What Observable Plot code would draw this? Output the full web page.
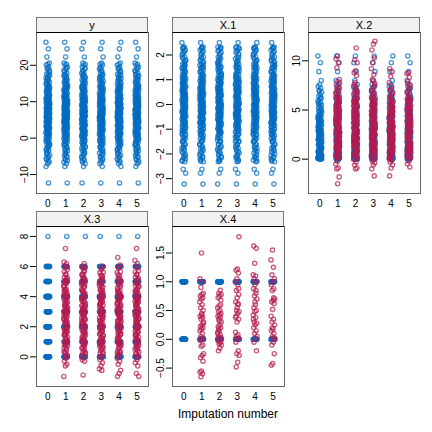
<!DOCTYPE html>
<html>
<head>
<meta charset="utf-8">
<script src="https://cdn.jsdelivr.net/npm/d3@7"></script>
<script src="https://cdn.jsdelivr.net/npm/@observablehq/plot@0.6"></script>
<style>
  body { margin: 0; background: #fff; }
  #wrap { position: relative; width: 432px; height: 432px; font-family: "Liberation Sans", Arial, sans-serif; }
  .pan { position: absolute; }
  .strip { position: absolute; box-sizing: border-box; height: 16px; background: #f2f2f2; border: 1px solid #777; border-bottom: 1px solid #000; font-size: 11px; text-align: center; line-height: 14px; color: #000; }
  #xlab { position: absolute; left: 0; width: 456px; top: 407px; text-align: center; font-size: 12px; }
</style>
</head>
<body>
<div id="wrap"></div>
<script>
// ---- data ----
const imputations = [0, 1, 2, 3, 4, 5];

const yObs = [26.3,24.5,22.3,20.6,20.3,20.1,19.5,18.9,18.2,17.8,17.5,17.1,16.8,16.4,16.0,15.7,15.4,15.1,14.8,14.5,14.2,13.9,13.7,13.4,13.1,12.9,12.7,12.4,12.2,11.9,11.7,11.5,11.3,11.0,10.8,10.6,10.4,10.2,10.0,9.8,9.6,9.4,9.2,9.0,8.8,8.6,8.5,8.3,8.1,7.9,7.8,7.6,7.4,7.2,7.0,6.9,6.7,6.5,6.3,6.1,6.0,5.8,5.6,5.4,5.2,5.0,4.8,4.6,4.4,4.2,4.0,3.8,3.6,3.4,3.2,3.0,2.8,2.5,2.3,2.1,1.8,1.6,1.3,1.1,0.8,0.5,0.2,-0.1,-0.4,-0.8,-1.2,-1.6,-2.0,-2.5,-3.0,-3.5,-4.1,-4.7,-5.3,-6.0,-6.6,-7.0,-7.8,-12.3,12.6,11.1,10.5,9.7,9.3,8.7,8.2,7.5,7.1,6.6,6.2,5.7,5.3,4.9,4.5,3.9,3.3,2.7,2.0,1.4,0.6,-0.6,-1.4,-2.3,-3.3,14.0,15.9,17.3,-5.0,-4.4,13.3,16.6,15.0,14.3,13.6,12.0,11.4,10.9,10.3,9.9,9.5,9.1,8.4,7.7,7.3,6.8,6.4,5.9,5.5,5.1,4.7,4.3,3.7,3.1,2.6,2.2,1.5,0.9,0.3,-0.3,-0.9,-1.8,-2.8,-3.8,18.6,19.2,-5.6,-6.2];

const x1Obs = [2.5,2.32,2.28,2.2,2.1,2.0,1.92,1.85,1.78,1.7,1.64,1.58,1.52,1.46,1.4,1.35,1.3,1.25,1.2,1.15,1.1,1.06,1.02,0.98,0.94,0.9,0.86,0.82,0.78,0.74,0.7,0.66,0.62,0.58,0.55,0.52,0.48,0.45,0.42,0.38,0.35,0.32,0.28,0.25,0.22,0.18,0.15,0.12,0.08,0.05,0.02,-0.01,-0.04,-0.07,-0.1,-0.14,-0.17,-0.2,-0.24,-0.27,-0.3,-0.34,-0.37,-0.41,-0.44,-0.48,-0.52,-0.55,-0.59,-0.63,-0.67,-0.71,-0.75,-0.79,-0.84,-0.88,-0.93,-0.98,-1.03,-1.08,-1.13,-1.19,-1.25,-1.31,-1.38,-1.45,-1.52,-1.6,-1.68,-1.77,-1.86,-1.96,-2.06,-2.15,-2.25,-2.32,-2.62,-2.78,-3.22,0.6,0.3,0.0,-0.3,-0.6,0.9,-0.9,1.2,-1.2,0.45,-0.45,0.15,-0.15,0.75,-0.75,1.05,-1.05,1.5,-1.5,1.8,-1.8,2.05,-2.0,2.3,-2.3,1.62,1.48,1.33,1.18,1.08,0.96,0.84,0.72,0.64,0.51,0.41,0.33,0.21,0.11,0.04,-0.06,-0.12,-0.22,-0.32,-0.39,-0.5,-0.57,-0.65,-0.73,-0.81,-0.91,-1.0,-1.1,-1.22,-1.35,-1.48,-1.63,-1.73,-1.9,2.15,2.25,-2.2,-2.1,1.9,1.72];

const x2Obs = [10.5,9.8,8.9,8.0,7.6,7.4,7.2,7.0,6.8,6.6,6.4,6.2,6.1,5.9,5.8,5.6,5.5,5.3,5.2,5.0,4.9,4.8,4.6,4.5,4.4,4.3,4.1,4.0,3.9,3.8,3.7,3.6,3.5,3.4,3.3,3.2,3.1,3.0,2.9,2.8,2.7,2.6,2.5,2.4,2.3,2.2,2.1,2.0,1.9,1.8,1.7,1.6,1.5,1.4,1.3,1.2,1.1,1.0,0.9,0.8,0.7,0.6,0.5,0.4,0.35,0.3,0.25,0.2,0.15,0.1,0.05,0.02,0.0,3.25,2.75,2.25,1.75,1.25,0.75,0.45,3.55,4.15,4.7,1.55,1.05,0.65,2.05,2.55,0.12,0.08,0.28,0.55,1.85,0.03,0.07,0.18,0.22,0.33,0.42,0.48,0.58,0.68,0.78,0.88,0.95,1.15,1.35,1.45,1.65,1.95,2.15,2.35,2.45,2.65,2.85,2.95,3.05,3.15,3.45,3.65,3.75,3.95,4.25,4.35,4.55,4.85,5.1,5.4,5.7,6.3,6.9,0.01,0.04];
const x2Imp1 = [10.5,10.2,9.8,9.3,8.1,7.9,7.6,7.3,7.0,6.7,6.4,6.2,6.0,5.7,5.5,5.3,5.1,4.9,4.7,4.5,4.3,4.1,3.9,3.7,3.5,3.3,3.1,2.9,2.7,2.5,2.3,2.1,1.9,1.7,1.5,1.3,1.1,0.9,0.7,0.5,0.3,0.1,-0.2,-0.5,-0.9,-1.0,-1.8,-2.5,4.8,3.6,2.4,1.2,5.9,6.6,0.4,0.15,0.45,0.85,1.05,1.35,1.65,1.95,2.15,2.45,2.65,2.85,3.05,3.25,3.45,3.65,3.85,4.05,4.25,4.45,4.65,4.85,5.05,5.25,5.45,5.65,5.85,6.05,6.35,6.85,7.15,7.75,0.65,1.45,2.25,3.15,3.95,4.55,5.15,5.75,2.95,3.55,1.85,2.55,4.15,0.95,1.15,2.05,3.35,4.95,6.25,0.25,1.75,2.35,3.75,5.35];
const x2Imp2 = [11.3,10.1,9.8,9.0,8.8,8.5,7.8,7.4,7.1,6.8,6.5,6.3,6.0,5.8,5.6,5.3,5.1,4.9,4.6,4.4,4.2,4.0,3.8,3.6,3.4,3.2,3.0,2.8,2.6,2.4,2.2,2.0,1.8,1.6,1.4,1.2,1.0,0.8,0.6,0.4,0.2,0.0,-0.3,-0.6,-0.9,-1.0,5.4,3.9,2.7,1.5,0.7,4.5,6.9,3.3,2.1,0.12,0.52,0.92,1.12,1.32,1.72,1.92,2.12,2.52,2.72,2.92,3.12,3.22,3.52,3.72,3.92,4.12,4.32,4.52,4.72,4.92,5.02,5.22,5.52,5.72,5.92,6.12,6.42,6.72,7.22,7.62,0.32,1.42,2.32,3.02,3.82,4.62,5.12,5.82,2.82,3.62,1.82,2.42,4.22,0.82,1.02,2.02,3.42,4.82,6.22,0.02,1.62,2.22,3.72,5.42];
const x2Imp3 = [12.0,11.7,11.1,10.3,9.8,9.2,8.6,8.1,7.7,7.3,7.0,6.7,6.4,6.1,5.9,5.6,5.4,5.1,4.9,4.7,4.4,4.2,4.0,3.8,3.5,3.3,3.1,2.9,2.7,2.5,2.3,2.1,1.9,1.6,1.4,1.2,1.0,0.8,0.5,0.3,0.1,-0.2,-0.4,-0.6,-1.0,-1.7,5.2,3.7,2.6,1.3,0.6,4.6,6.3,3.0,1.8,0.18,0.48,0.88,1.08,1.38,1.68,1.98,2.18,2.48,2.68,2.88,3.08,3.28,3.48,3.68,3.88,4.08,4.28,4.48,4.68,4.88,5.08,5.28,5.48,5.68,5.88,6.08,6.58,6.88,7.48,7.98,0.38,1.48,2.28,3.18,3.98,4.58,5.18,5.78,2.98,3.58,1.88,2.58,4.18,0.98,1.18,2.08,3.38,4.98,6.28,0.08,1.78,2.38,3.78,5.38];
const x2Imp4 = [9.2,8.9,8.4,7.8,7.4,7.0,6.7,6.4,6.1,5.8,5.6,5.3,5.1,4.9,4.7,4.5,4.3,4.1,3.9,3.7,3.5,3.3,3.1,2.9,2.7,2.5,2.3,2.1,1.9,1.7,1.5,1.3,1.1,0.9,0.7,0.5,0.3,0.1,-0.1,-0.3,-0.6,-0.9,-1.7,5.0,3.6,2.4,1.2,0.4,4.4,6.2,3.0,1.8,2.0,0.8,0.14,0.44,0.84,1.04,1.34,1.64,1.94,2.14,2.44,2.64,2.84,3.04,3.24,3.44,3.64,3.84,4.04,4.24,4.44,4.64,4.84,5.04,5.24,5.44,5.64,5.84,6.04,6.34,6.64,7.14,0.64,1.44,2.24,3.14,3.94,4.54,5.14,5.74,2.94,3.54,1.84,2.54,4.14,0.94,1.14,2.04,3.34,4.94,0.24,1.74,2.34,3.74,5.34,-0.04];
const x2Imp5 = [8.8,8.7,8.3,7.9,7.5,7.2,6.9,6.6,6.3,6.0,5.8,5.5,5.3,5.1,4.9,4.7,4.5,4.3,4.1,3.9,3.7,3.5,3.3,3.1,2.9,2.7,2.5,2.3,2.1,1.9,1.7,1.5,1.3,1.1,0.9,0.7,0.5,0.3,0.1,-0.2,-0.5,-0.8,5.2,3.8,2.6,1.4,0.6,4.6,6.1,3.2,2.0,1.0,0.2,7.7,0.16,0.46,0.86,1.06,1.36,1.66,1.96,2.16,2.46,2.66,2.86,3.06,3.26,3.46,3.66,3.86,4.06,4.26,4.46,4.66,4.86,5.06,5.26,5.46,5.66,5.86,6.06,6.36,6.76,7.16,0.66,1.46,2.26,3.16,3.96,4.56,5.16,5.76,2.96,3.56,1.86,2.56,4.16,0.96,1.16,2.06,3.36,4.96,6.26,0.26,1.76,2.36,3.76,5.36];

const x3Levels = [0, 1, 2, 3, 4, 5, 6, 8];
const x3Counts = [18, 12, 18, 18, 18, 12, 10, 1];
const x3Imp1 = [7.2,6.3,6.2,6.0,5.8,5.5,5.3,5.1,4.9,4.7,4.5,4.3,4.1,3.9,3.8,3.6,3.4,3.3,3.1,3.0,2.8,2.7,2.5,2.4,2.2,2.1,1.9,1.8,1.6,1.5,1.3,1.2,1.0,0.9,0.7,0.6,0.4,0.3,0.1,-0.1,-0.3,-0.5,-0.6,-1.3,3.5,2.9,2.3,1.7,4.4,5.0,0.8,3.2,2.6,1.4,0.0,0.05,0.35,0.55,0.85,1.05,1.25,1.45,1.65,1.85,2.05,2.25,2.45,2.65,2.85,3.05,3.25,3.45,3.65,3.85,4.05,4.25,4.45,4.65,4.85,5.05,5.25,5.45,5.65,5.95,0.25,0.75,1.15,1.55,1.95,2.35,2.75,3.15,3.55,3.95,4.35,4.75,5.15,2.15,2.55,2.95,3.35,1.75,3.75,4.15,0.95];
const x3Imp2 = [6.2,6.0,5.9,5.7,5.4,5.2,5.0,4.8,4.6,4.4,4.2,4.0,3.8,3.7,3.5,3.3,3.2,3.0,2.9,2.7,2.6,2.4,2.3,2.1,2.0,1.8,1.7,1.5,1.4,1.2,1.1,0.9,0.8,0.6,0.5,0.3,0.2,0.0,-0.2,-0.3,-1.2,3.4,2.8,2.2,1.6,4.3,4.9,0.7,3.1,2.5,1.3,3.9,1.0,5.5,0.08,0.38,0.58,0.88,1.08,1.28,1.48,1.68,1.88,2.08,2.28,2.48,2.68,2.88,3.08,3.28,3.48,3.68,3.88,4.08,4.28,4.48,4.68,4.88,5.08,5.28,5.48,5.68,5.88,0.28,0.78,1.18,1.58,1.98,2.38,2.78,3.18,3.58,3.98,4.38,4.78,5.18,2.18,2.58,2.98,3.38,1.78,3.78,4.18,0.98];
const x3Imp3 = [6.0,5.8,5.6,5.3,5.1,4.9,4.7,4.5,4.3,4.1,3.9,3.7,3.6,3.4,3.2,3.1,2.9,2.8,2.6,2.5,2.3,2.2,2.0,1.9,1.7,1.6,1.4,1.3,1.1,1.0,0.8,0.7,0.5,0.4,0.2,0.0,-0.2,-0.4,-0.6,-0.8,-0.9,3.5,2.7,2.1,1.5,4.4,4.8,0.6,3.0,2.4,1.2,3.8,0.9,5.4,0.02,0.32,0.52,0.82,1.02,1.22,1.42,1.62,1.82,2.02,2.22,2.42,2.62,2.82,3.02,3.22,3.42,3.62,3.82,4.02,4.22,4.42,4.62,4.82,5.02,5.22,5.42,5.62,5.92,0.22,0.72,1.12,1.52,1.92,2.32,2.72,3.12,3.52,3.92,4.32,4.72,5.12,2.12,2.52,2.92,3.32,1.72,3.72,4.12,0.92];
const x3Imp4 = [6.6,6.1,5.9,5.6,5.4,5.2,5.0,4.8,4.6,4.4,4.2,4.0,3.8,3.6,3.5,3.3,3.1,3.0,2.8,2.7,2.5,2.4,2.2,2.1,1.9,1.8,1.6,1.5,1.3,1.2,1.0,0.9,0.7,0.6,0.4,0.3,0.1,-0.1,-0.3,-0.5,-0.9,-1.1,-1.3,3.4,2.9,2.3,1.7,4.3,5.0,0.8,3.2,2.6,1.4,3.9,0.2,0.06,0.36,0.56,0.86,1.06,1.26,1.46,1.66,1.86,2.06,2.26,2.46,2.66,2.86,3.06,3.26,3.46,3.66,3.86,4.06,4.26,4.46,4.66,4.86,5.06,5.26,5.46,5.66,5.96,0.26,0.76,1.16,1.56,1.96,2.36,2.76,3.16,3.56,3.96,4.36,4.76,5.16,2.16,2.56,2.96,3.36,1.76,3.76,4.16,0.96];
const x3Imp5 = [7.2,6.4,6.2,6.0,5.7,5.5,5.3,5.1,4.9,4.7,4.5,4.3,4.1,3.9,3.7,3.6,3.4,3.2,3.1,2.9,2.8,2.6,2.5,2.3,2.2,2.0,1.9,1.7,1.6,1.4,1.3,1.1,1.0,0.8,0.7,0.5,0.4,0.2,0.0,-0.2,-0.4,-0.6,-1.1,-1.3,3.5,2.7,2.1,1.5,4.4,4.8,0.6,3.0,2.4,1.2,3.8,0.04,0.34,0.54,0.84,1.04,1.24,1.44,1.64,1.84,2.04,2.24,2.44,2.64,2.84,3.04,3.24,3.44,3.64,3.84,4.04,4.24,4.44,4.64,4.84,5.04,5.24,5.44,5.64,5.94,0.24,0.74,1.14,1.54,1.94,2.34,2.74,3.14,3.54,3.94,4.34,4.74,5.14,2.14,2.54,2.94,3.34,1.74,3.74,4.14,0.94];

const x4Levels = [0, 1];
const x4Counts = [20, 20];
const x4Imp1 = [1.5,1.05,1.0,0.9,0.8,0.78,0.75,0.72,0.7,0.65,0.6,0.55,0.5,0.45,0.4,0.38,0.35,0.3,0.25,0.22,0.2,0.18,0.15,0.1,0.05,0.02,0,-0.02,-0.1,-0.12,-0.25,-0.28,-0.32,-0.38,-0.55,-0.57,-0.6,-0.65,0.28,0.42];
const x4Imp2 = [0.85,0.8,0.78,0.75,0.72,0.6,0.58,0.55,0.5,0.48,0.45,0.42,0.4,0.38,0.35,0.3,0.25,0.22,0.2,0.15,0.1,0.08,0.05,0.03,0,-0.02,-0.05,-0.08,-0.1,-0.15,-0.2,0.68,0.32,0.12,-0.05,0.18];
const x4Imp3 = [1.78,1.22,1.2,1.15,1.05,1.0,0.95,0.85,0.78,0.72,0.65,0.6,0.5,0.48,0.45,0.4,0.35,0.3,0.12,0.08,0.05,0.02,0,-0.05,-0.2,-0.25,-0.28,-0.4,-0.48,0.88,0.55,0.38,0.62];
const x4Imp4 = [1.62,1.58,1.32,1.12,1.1,1.05,1.0,0.95,0.88,0.8,0.75,0.7,0.6,0.55,0.5,0.48,0.42,0.38,0.3,0.28,0.25,0.2,0.15,0.1,0.05,0,-0.05,-0.2,0.65,0.35,0.85];
const x4Imp5 = [1.55,1.38,1.25,1.12,1.05,1.0,0.95,0.88,0.85,0.7,0.68,0.65,0.62,0.52,0.4,0.35,0.3,0.25,0.18,0.15,0.1,0.05,0,-0.05,-0.1,-0.25,-0.42,-0.45,0.72,0.2,0.02];

const yTicks = [-10, 0, 10, 20];
const x1Ticks = [-3, -2, -1, 0, 1, 2];
const x2Ticks = [0, 5, 10];
const x3Ticks = [0, 2, 4, 6, 8];
const x4Ticks = [-0.5, 0, 0.5, 1, 1.5];

// ---- helpers ----
const expand = (levels, counts) => levels.flatMap((v, k) => Array(counts[k]).fill(v));
const jit = (i, c) => ((((i * 0.6180339887) + c * 0.2357) % 1) - 0.5) * 0.22;
const minus = s => s.replace("-", "\u2212");

function build(obs, imps) {
  const o = [], m = [];
  imputations.forEach(c => obs.forEach((v, i) => o.push({x: c + jit(i, c), y: v})));
  if (imps) imps.forEach((arr, k) => arr.forEach((v, i) => m.push({x: (k + 1) + jit(i + 311, k + 1), y: v})));
  return {o, m};
}

const panels = [
  {name: "y", obs: yObs, imps: null, domain: [-15.2, 29.0], ticks: yTicks, fmt: d => minus(String(d)), px: 36, top: 32, h: 161},
  {name: "X.1", obs: x1Obs, imps: null, domain: [-3.6, 2.91], ticks: x1Ticks, fmt: d => minus(String(d)), px: 172, top: 32, h: 161},
  {name: "X.2", obs: x2Obs, imps: [x2Imp1, x2Imp2, x2Imp3, x2Imp4, x2Imp5], domain: [-3.49, 12.88], ticks: x2Ticks, fmt: d => minus(String(d)), px: 308, top: 32, h: 161},
  {name: "X.3", obs: expand(x3Levels, x3Counts), imps: [x3Imp1, x3Imp2, x3Imp3, x3Imp4, x3Imp5], domain: [-1.97, 8.66], ticks: x3Ticks, fmt: d => minus(String(d)), px: 36, top: 226, h: 160},
  {name: "X.4", obs: expand(x4Levels, x4Counts), imps: [x4Imp1, x4Imp2, x4Imp3, x4Imp4, x4Imp5], domain: [-0.82, 1.96], ticks: x4Ticks, fmt: d => minus(d.toFixed(1)), px: 172, top: 226, h: 160}
];

const wrap = document.getElementById("wrap");
const ML = 36, PW = 112, MB = 22;

panels.forEach(p => {
  const {o, m} = build(p.obs, p.imps);
  const chart = Plot.plot({
    width: ML + PW, height: p.h + MB,
    marginLeft: ML, marginRight: 0, marginTop: 0, marginBottom: MB,
    x: {domain: [-0.64, 5.65], axis: null},
    y: {domain: p.domain, axis: null},
    style: {fontFamily: "'Liberation Sans', Arial, sans-serif", fontSize: "10px", background: "transparent", overflow: "visible", color: "#000"},
    marks: [
      Plot.dot(o, {x: "x", y: "y", r: 2.1, stroke: "#006CC2", strokeOpacity: 0.72, strokeWidth: 1.35}),
      Plot.dot(m, {x: "x", y: "y", r: 2.1, stroke: "#B61A51", strokeOpacity: 0.72, strokeWidth: 1.35}),
      Plot.frame({stroke: "#666"}),
      Plot.axisY({ticks: p.ticks, tickSize: 6, tickFormat: () => "", label: null, stroke: "#000"}),
      Plot.text(p.ticks, {y: d => d, text: p.fmt, frameAnchor: "left", dx: -9, rotate: -90, textAnchor: "middle", lineAnchor: "bottom", fill: "#000"}),
      Plot.axisX({ticks: imputations, tickSize: 0, tickPadding: 6, label: null, tickFormat: d => String(d)})
    ]
  });
  chart.classList.add("pan");
  chart.style.left = (p.px - ML) + "px";
  chart.style.top = p.top + "px";
  wrap.appendChild(chart);
  const s = document.createElement("div");
  s.className = "strip";
  s.textContent = p.name;
  s.style.left = p.px + "px";
  s.style.width = PW + "px";
  s.style.top = (p.top - 15) + "px";
  wrap.appendChild(s);
});

const xl = document.createElement("div");
xl.id = "xlab";
xl.textContent = "Imputation number";
wrap.appendChild(xl);
</script>
</body>
</html>
